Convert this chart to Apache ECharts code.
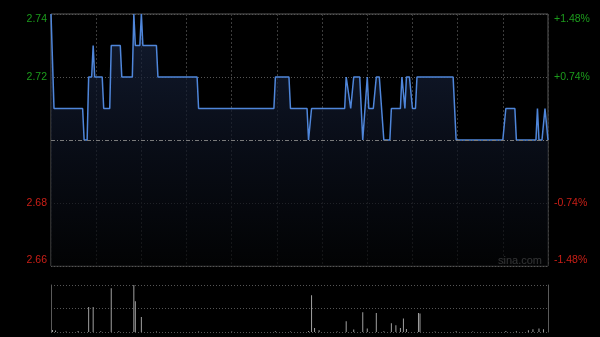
<!DOCTYPE html>
<html>
<head>
<meta charset="utf-8">
<script src="https://cdn.jsdelivr.net/npm/echarts@6/dist/echarts.min.js"></script>
<style>
html,body{margin:0;padding:0;background:#000;}
#chart{width:600px;height:337px;}
</style>
</head>
<body>
<div id="chart"></div>
<script>
// Intraday minutes since open (0..330) where the price changes, and prices
const minutes = [0,2,21,22,24,25,27,28,29,34,35,39,40,46,47,54,55,56,59,60,61,70,71,97,98,148,149,158,159,170,171,172,173,195,196,197,199,201,205,207,208,210,211,214,216,218,221,225,226,232,233,234,235,236,238,240,242,243,267,269,300,302,308,309,322,323,324,326,328,330];
const prices  = [2.74,2.71,2.71,2.70,2.70,2.72,2.72,2.73,2.72,2.72,2.71,2.71,2.73,2.73,2.72,2.72,2.74,2.73,2.73,2.74,2.73,2.73,2.72,2.72,2.71,2.71,2.72,2.72,2.71,2.71,2.70,2.70,2.71,2.71,2.72,2.72,2.71,2.72,2.72,2.70,2.70,2.72,2.71,2.71,2.72,2.72,2.70,2.70,2.71,2.71,2.72,2.72,2.71,2.72,2.72,2.71,2.71,2.72,2.72,2.70,2.70,2.71,2.71,2.70,2.70,2.71,2.70,2.70,2.71,2.70];

// Volume bars (minute, volume)
const volMinutes = [1,3,10,18,25,28,33,40,45,55,56,60,70,98,120,149,159,171,173,175,178,190,196,201,207,210,216,221,226,229,232,234,236,244,245,255,269,280,302,309,317,320,324,327];
const volumes    = [20,15,6,10,250,250,8,437,8,470,307,150,6,5,5,8,6,10,367,40,17,6,107,24,197,34,190,8,87,67,40,134,30,190,184,5,8,5,10,8,17,27,34,27];

const prevClose = 2.70;
const priceTicks = [2.66, 2.68, 2.70, 2.72, 2.74];
const priceLabels = ['2.66', '2.68', '', '2.72', '2.74'];
const pctLabels = ['-1.48%', '-0.74%', '', '+0.74%', '+1.48%'];

function tickIndex(v){ return Math.round((v - priceTicks[0]) / 0.02); }
function tickColor(v){ return v > prevClose + 1e-6 ? '#1c9c1c' : '#cc1f17'; }

const chart = echarts.init(document.getElementById('chart'));
chart.setOption({
  animation: false,
  backgroundColor: '#000',
  textStyle: { fontFamily: 'Arial, Liberation Sans, sans-serif' },
  graphic: [{
    type: 'text', left: 498, top: 255, silent: true,
    style: { text: 'sina.com', fill: '#a0a0a0', font: '11px Arial, Liberation Sans, sans-serif' }
  }],
  grid: [
    { left: 51, top: 14, width: 497, height: 252, show: true, borderColor: '#5a5a5a', borderWidth: 1, backgroundColor: 'transparent' },
    { left: 51, top: 285, width: 497, height: 47, show: false }
  ],
  xAxis: [
    { type: 'value', gridIndex: 0, min: 0, max: 330, interval: 30,
      axisLine: { show: false }, axisTick: { show: false }, axisLabel: { show: false },
      splitLine: { show: true, lineStyle: { color: '#3c3c3c', type: [2, 2], width: 1 } } },
    { type: 'value', gridIndex: 1, min: 0, max: 330, interval: 30,
      axisLine: { show: false }, axisTick: { show: false }, axisLabel: { show: false },
      splitLine: { show: false } }
  ],
  yAxis: [
    { type: 'value', gridIndex: 0, min: 2.66, max: 2.74, interval: 0.02, position: 'left',
      axisLine: { show: false }, axisTick: { show: false },
      axisLabel: { show: true, margin: 4, fontSize: 10.5,
        verticalAlignMinLabel: 'bottom', verticalAlignMaxLabel: 'top',
        color: function(v){ return tickColor(v); },
        formatter: function(v){ return priceLabels[tickIndex(v)] || ''; } },
      splitLine: { show: true, lineStyle: { color: '#555', type: [1, 2], width: 1 } } },
    { type: 'value', gridIndex: 0, min: 2.66, max: 2.74, interval: 0.02, position: 'right',
      axisLine: { show: false }, axisTick: { show: false },
      axisLabel: { show: true, margin: 6, fontSize: 10.5,
        verticalAlignMinLabel: 'bottom', verticalAlignMaxLabel: 'top',
        color: function(v){ return tickColor(v); },
        formatter: function(v){ return pctLabels[tickIndex(v)] || ''; } },
      splitLine: { show: false } },
    { type: 'value', gridIndex: 1, min: 0, max: 470, interval: 235, position: 'left',
      axisLine: { show: true, lineStyle: { color: '#5a5a5a' } }, axisTick: { show: false }, axisLabel: { show: false },
      splitLine: { show: true, lineStyle: { color: '#555', type: [1, 2], width: 1 } } },
    { type: 'value', gridIndex: 1, min: 0, max: 470, interval: 235, position: 'right',
      axisLine: { show: true, lineStyle: { color: '#5a5a5a' } }, axisTick: { show: false }, axisLabel: { show: false },
      splitLine: { show: false } }
  ],
  series: [
    { type: 'line', xAxisIndex: 0, yAxisIndex: 0,
      data: minutes.map((m, i) => [m, prices[i]]),
      symbol: 'none', silent: true,
      lineStyle: { color: '#4f86da', width: 1.5 },
      areaStyle: { origin: 'start', color: new echarts.graphic.LinearGradient(0, 0, 0, 1, [
        { offset: 0, color: '#1a2744' }, { offset: 0.5, color: '#0d1322' }, { offset: 1, color: '#030405' }
      ]) },
      markLine: { silent: true, symbol: 'none', label: { show: false },
        lineStyle: { color: '#7a7a7a', type: [4, 2, 1, 2], width: 1 },
        data: [{ yAxis: prevClose }] }
    },
    { type: 'bar', xAxisIndex: 1, yAxisIndex: 2,
      data: volMinutes.map((m, i) => [m, volumes[i]]),
      barWidth: 1, silent: true,
      itemStyle: { color: '#a0a0a0' } }
  ]
});
</script>
</body>
</html>
